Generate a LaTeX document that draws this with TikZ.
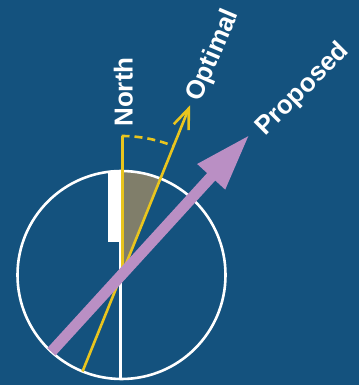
\documentclass[tikz,border=0pt]{standalone}
\usepackage{fontspec}
\setmainfont{Liberation Sans}
\usetikzlibrary{arrows.meta,calc}
\definecolor{bgblue}{RGB}{20,82,126}
\definecolor{wedgecol}{RGB}{128,126,106}
\definecolor{ayellow}{RGB}{233,197,30}
\definecolor{apurple}{RGB}{186,143,196}
\begin{document}
\begin{tikzpicture}[x=1bp,y=1bp,
  lbl/.style={text=white, font=\bfseries\fontsize{26bp}{30bp}\selectfont, inner sep=0pt},
  yline/.style={ayellow, line width=2.6bp},
  wline/.style={white, line width=2.6bp}]
\fill[bgblue] (0,0) rectangle (359,385);
\useasboundingbox (0,0) rectangle (359,385);
\coordinate (C) at (121.5,110);
\coordinate (ctop) at ($(C)+(-1,104)$);
\coordinate (cbot) at ($(C)+(-1,-104)$);
\coordinate (nbase) at ($(C)+(1,0)$);
\coordinate (ntop) at ($(C)+(1,139)$);
\coordinate (otail) at ($(C)+(248:104)$);
\coordinate (otip) at ($(C)+(68:183)$);
% wedge
\fill[wedgecol] (C) -- ($(C)+(90:104)$) arc[start angle=90,end angle=68,radius=104] -- cycle;
% white tab
\fill[white] (107.5,143.3) rectangle (121,214);
% circle and vertical diameter
\draw[wline] (C) circle[radius=104];
\draw[wline, line width=2.4bp] (ctop) -- (cbot);
% north line and dashed angle arc
\draw[yline] (nbase) -- (ntop);
\draw[yline, dash pattern=on 8bp off 5bp] ($(C)+(90:139)$) arc[start angle=90,end angle=68,radius=139];
% optimal arrow
\draw[yline, -{Straight Barb[length=20bp,width=16bp]}] (otail) -- (otip);
% proposed arrow
\begin{scope}[shift={(C)}, rotate=47.6]
\fill[apurple] (-104,-5.5) -- (133,-5.5) -- (133,-19) -- (188,0) -- (133,19) -- (133,5.5) -- (-104,5.5) -- cycle;
\end{scope}
% labels
\node[lbl, rotate=90] (north) at (123.3,293) {North};
\node[lbl, rotate=67] (optimal) at (213.5,329.5) {Optimal};
\node[lbl, rotate=45] (proposed) at (302.8,295.2) {Proposed};
\end{tikzpicture}
\end{document}
